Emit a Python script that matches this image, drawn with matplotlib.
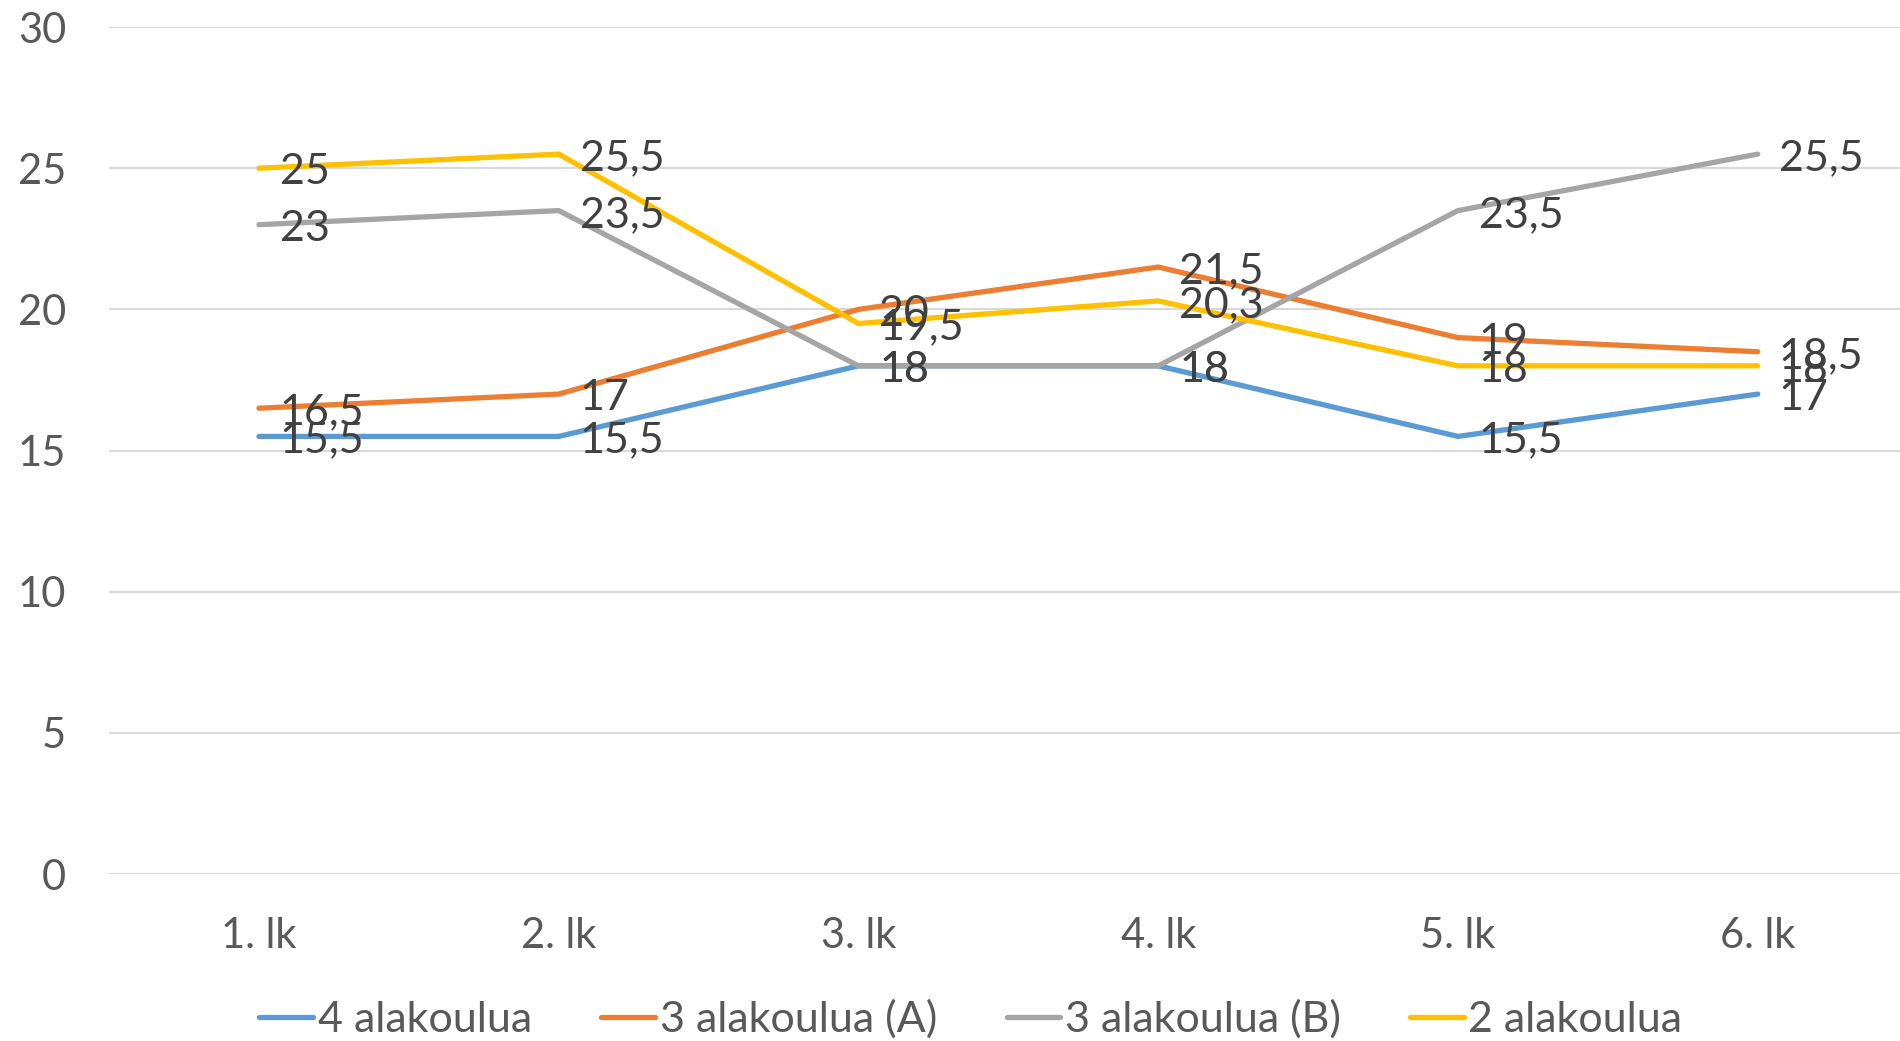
import matplotlib.pyplot as plt

plt.rcParams['font.family'] = ['Lato', 'DejaVu Sans']

categories = ['1. lk', '2. lk', '3. lk', '4. lk', '5. lk', '6. lk']
series_names = ['4 alakoulua', '3 alakoulua (A)', '3 alakoulua (B)', '2 alakoulua']
vals_4 = [15.5, 15.5, 18, 18, 15.5, 17]
vals_3a = [16.5, 17, 20, 21.5, 19, 18.5]
vals_3b = [23, 23.5, 18, 18, 23.5, 25.5]
vals_2 = [25, 25.5, 19.5, 20.3, 18, 18]
colors = ['#5B9BD5', '#ED7D31', '#A5A5A5', '#FFC000']

fig = plt.figure(figsize=(19, 10.41), dpi=100)
ax = fig.add_axes([0.0574, 0.1604, 0.9466, 0.8136])

x = list(range(len(categories)))
for name, vals, c in zip(series_names, [vals_4, vals_3a, vals_3b, vals_2], colors):
    ax.plot(x, vals, color=c, lw=3.8, label=name, solid_capstyle='round', solid_joinstyle='miter', zorder=3)
    for xi, v in zip(x, vals):
        txt = ('%g' % v).replace('.', ',')
        ax.annotate(txt, (xi, v), xytext=(15, -3), textcoords='offset points',
                    ha='left', va='center', fontsize=31, color='#404040', zorder=4)

ax.set_xlim(-0.5, 5.5)
ax.set_ylim(0, 30)
ax.set_yticks(range(0, 31, 5))
ax.set_xticks(x)
ax.set_xticklabels(categories)
ax.grid(axis='y', color='#D9D9D9', lw=1.5)
ax.set_axisbelow(True)
for s in ax.spines.values():
    s.set_visible(False)
ax.tick_params(axis='both', length=0, labelsize=30, labelcolor='#595959')
ax.tick_params(axis='y', pad=31)
ax.tick_params(axis='x', pad=31)

fig.legend(loc='center', bbox_to_anchor=(0.511, 1 - 1019 / 1041), ncol=4, frameon=False,
           fontsize=31, labelcolor='#595959', handlelength=1.25, handletextpad=0.1,
           columnspacing=1.62)

fig.savefig('out.png', dpi=100)
